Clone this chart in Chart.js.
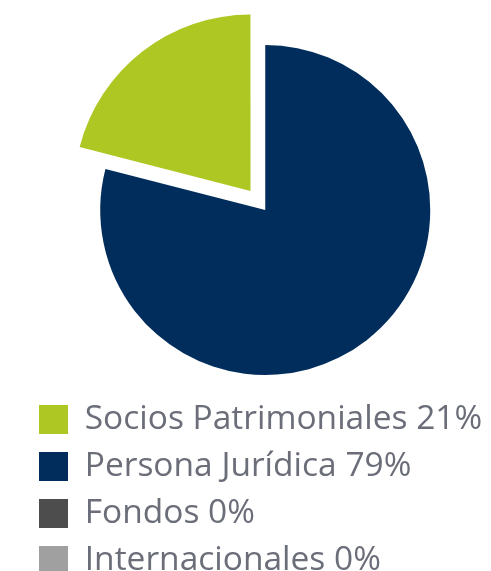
<!DOCTYPE html>
<html>
<head>
<meta charset="utf-8">
<script src="https://cdn.jsdelivr.net/npm/chart.js@4"></script>
<style>
  html, body { margin: 0; padding: 0; background: #ffffff; }
  #wrap { width: 491px; height: 571px; position: relative; overflow: hidden; }
</style>
</head>
<body>
<div id="wrap"><canvas id="c" width="491" height="571"></canvas></div>
<script>
// ---- data ----
const categories = ['Socios Patrimoniales', 'Persona Jurídica', 'Fondos', 'Internacionales'];
const shares = [21, 79, 0, 0];
const colors = ['#aec722', '#002d5c', '#4d4d4d', '#a0a0a0'];
const legendLabels = categories.map((c, i) => c + ' ' + shares[i] + '%');

const total = shares.reduce((a, b) => a + b, 0);
const startRotation = -360 * shares[0] / total;   // first slice ends at the top
const pieRadius = 165;
const explodedScale = 1.065;                       // exploded slice drawn a little larger
const pieShiftX = 7;                               // pie sits right of the canvas centre

const piePlacement = {
  id: 'piePlacement',
  afterDatasetsUpdate(chart) {
    const arcs = chart.getDatasetMeta(0).data;
    arcs.forEach((arc) => { arc.x += pieShiftX; });
    if (arcs[0]) arcs[0].outerRadius = pieRadius * explodedScale;
  }
};

new Chart(document.getElementById('c'), {
  type: 'pie',
  data: {
    labels: legendLabels,
    datasets: [{
      data: shares,
      backgroundColor: colors,
      borderWidth: 0,
      offset: [96, 0, 0, 0],
      hoverOffset: 0,
      radius: pieRadius
    }]
  },
  options: {
    responsive: false,
    animation: false,
    rotation: startRotation,
    layout: { padding: { left: 25.5, right: 0, top: 30.8, bottom: -16.2 } },
    plugins: {
      tooltip: { enabled: false },
      legend: {
        position: 'bottom',
        align: 'start',
        labels: {
          boxWidth: 29,
          boxHeight: 29,
          padding: 13.5,
          color: '#6b6e79',
          font: { family: '"Open Sans", sans-serif', size: 33.5, weight: 'normal' }
        }
      }
    }
  },
  plugins: [piePlacement]
});
</script>
</body>
</html>
